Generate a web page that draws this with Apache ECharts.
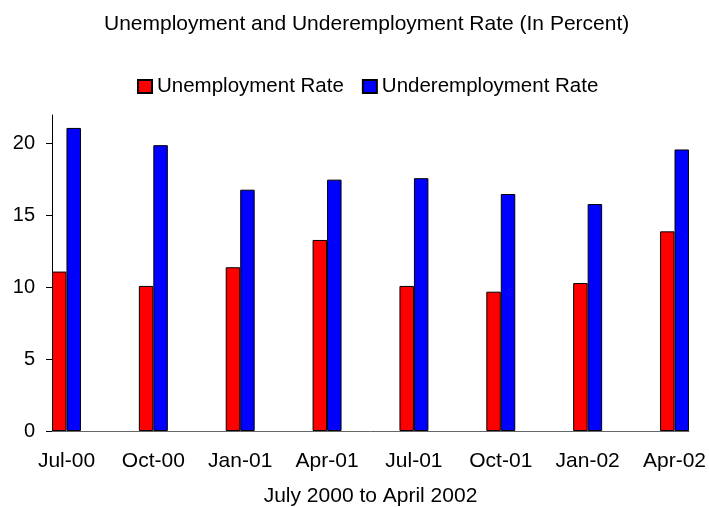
<!DOCTYPE html>
<html>
<head>
<meta charset="utf-8">
<title>Unemployment and Underemployment Rate</title>
<script src="https://cdn.jsdelivr.net/npm/echarts@6/dist/echarts.min.js"></script>
<style>
  html, body { margin: 0; padding: 0; background: #fff; }
  #rateChart { width: 709px; height: 507px; }
</style>
</head>
<body>
<div id="rateChart"></div>
<script>
// quarterly survey rounds, in percent
const quarters = ['Jul-00', 'Oct-00', 'Jan-01', 'Apr-01', 'Jul-01', 'Oct-01', 'Jan-02', 'Apr-02'];
const unemployment = [11.1, 10.1, 11.4, 13.3, 10.1, 9.7, 10.3, 13.9];
const underemployment = [21.1, 19.9, 16.8, 17.5, 17.6, 16.5, 15.8, 19.6];
const yTicks = [0, 5, 10, 15, 20];

const fontFamily = '"Liberation Sans", Arial, sans-serif';

// the original is a monthly date axis: one slot per month, data only every 3rd month
const slots = [];
const unempSlots = [];
const underSlots = [];
quarters.forEach((q, i) => {
    slots.push(q);
    unempSlots.push(unemployment[i]);
    underSlots.push(underemployment[i]);
    if (i < quarters.length - 1) {
        for (let k = 0; k < 2; k++) {
            slots.push('');
            unempSlots.push(null);
            underSlots.push(null);
        }
    }
});

const myChart = echarts.init(document.getElementById('rateChart'));

myChart.setOption({
    animation: false,
    textStyle: { fontFamily: fontFamily, color: '#000' },
    title: {
        text: 'Unemployment and Underemployment Rate (In Percent)',
        left: 104,
        top: 14,
        padding: 0,
        textStyle: { fontSize: 21, fontWeight: 'normal', color: '#000', fontFamily: fontFamily }
    },
    legend: {
        left: 137,
        top: 76,
        padding: 0,
        icon: 'rect',
        itemWidth: 14,
        itemHeight: 13,
        itemGap: 18,
        textStyle: { fontSize: 20.5, color: '#000', fontFamily: fontFamily },
        data: ['Unemployment Rate', 'Underemployment Rate']
    },
    grid: {
        left: 52,
        right: 20,
        top: 115,
        bottom: 76,
        outerBoundsMode: 'none'
    },
    xAxis: {
        type: 'category',
        data: slots,
        boundaryGap: true,
        name: 'July 2000 to April 2002',
        nameLocation: 'middle',
        nameGap: 55,
        nameTextStyle: { fontSize: 21, color: '#000', fontFamily: fontFamily },
        axisLine: { lineStyle: { color: '#666', width: 1 } },
        axisTick: { interval: 2, length: 6, lineStyle: { color: '#666' } },
        axisLabel: { interval: 2, margin: 20, fontSize: 21, color: '#000', fontFamily: fontFamily },
        splitLine: { show: false }
    },
    yAxis: {
        type: 'value',
        min: 0,
        max: 22,
        interval: 5,
        axisLine: { show: true, lineStyle: { color: '#000', width: 1 } },
        axisTick: { show: true, length: 6, customValues: yTicks, lineStyle: { color: '#000' } },
        axisLabel: { margin: 17, fontSize: 20, color: '#000', fontFamily: fontFamily, customValues: yTicks },
        splitLine: { show: false }
    },
    series: [
        {
            name: 'Unemployment Rate',
            type: 'bar',
            data: unempSlots,
            barGap: '0%',
            barCategoryGap: '0%',
            itemStyle: { color: '#ff0000', borderColor: '#000', borderWidth: 1 }
        },
        {
            name: 'Underemployment Rate',
            type: 'bar',
            data: underSlots,
            barGap: '0%',
            barCategoryGap: '0%',
            itemStyle: { color: '#0000ff', borderColor: '#000', borderWidth: 1 }
        }
    ]
});
</script>
</body>
</html>
